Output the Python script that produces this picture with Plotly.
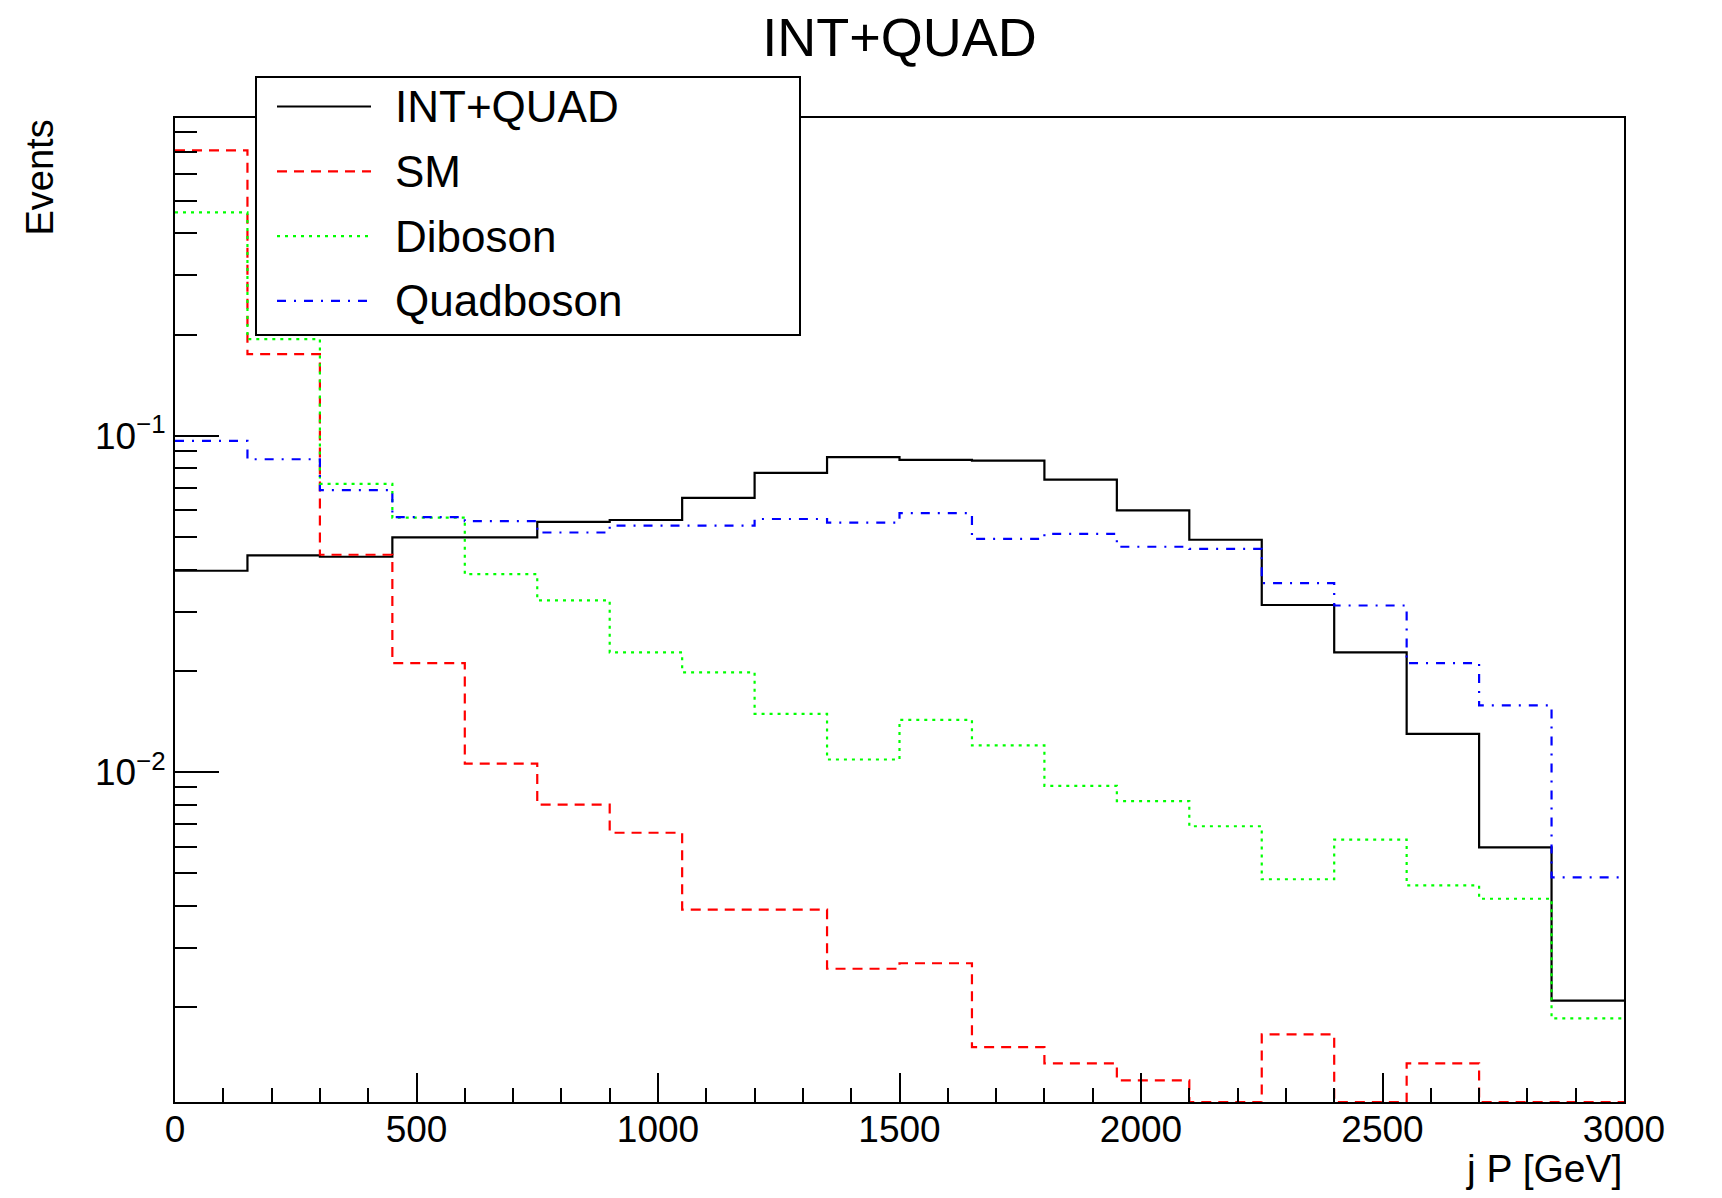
import plotly.graph_objects as go

# ---------------- data ----------------
bin_edges = list(range(0, 3001, 150))  # 20 bins of 150 GeV

int_quad = [0.0397, 0.0441, 0.0437, 0.0499, 0.0499, 0.0555, 0.0562, 0.0654, 0.0776, 0.0864,
            0.0848, 0.0844, 0.0741, 0.0600, 0.0491, 0.0314, 0.0227, 0.0130, 0.00597, 0.00209]
sm = [0.707, 0.175, 0.0443, 0.0211, 0.0106, 0.0080, 0.0066, 0.0039, 0.0039, 0.0026,
      0.0027, 0.00152, 0.00136, 0.00121, 0.0, 0.00166, 0.0, 0.00136, 0.0, 0.0]
diboson = [0.462, 0.194, 0.0720, 0.0571, 0.0388, 0.0324, 0.0227, 0.0198, 0.0149, 0.0109,
           0.0143, 0.0120, 0.0091, 0.0082, 0.0069, 0.0048, 0.0063, 0.0046, 0.0042, 0.00185]
quadboson = [0.0966, 0.0852, 0.0690, 0.0573, 0.0558, 0.0516, 0.0541, 0.0541, 0.0566, 0.0552,
             0.0589, 0.0494, 0.0511, 0.0468, 0.0461, 0.0365, 0.0313, 0.0211, 0.0158, 0.00486]

series_names = ["INT+QUAD", "SM", "Diboson", "Quadboson"]
series_values = [int_quad, sm, diboson, quadboson]

x_tick_vals = [0, 500, 1000, 1500, 2000, 2500, 3000]
y_tick_vals = [0.01, 0.1]
y_tick_text = ["10<sup>\u22122</sup>", "10<sup>\u22121</sup>"]
y_minor_vals = [k * 10.0 ** e for e in (-3, -2, -1) for k in range(2, 10)]

title_text = "INT+QUAD"
x_title = "j P [GeV]"
y_title = "Events"

# ---------------- styles ----------------
colors = ["#000000", "#ff0000", "#00ff00", "#0000ff"]
dashes = ["solid", "10px,7px", "3px,5px", "9px,8px,2px,8px"]
FONT = "Liberation Sans, Arial, sans-serif"

PAGE_W, PAGE_H = 1722, 1198
OFF = 8  # default body margin of the html page
W, H = PAGE_W - 2 * OFF, PAGE_H - 2 * OFF
# plot area in page pixels
PX0, PX1, PY0, PY1 = 175, 1624, 118, 1102
ML, MR, MT, MB = PX0 - OFF, OFF + W - PX1, PY0 - OFF, OFF + H - PY1
PW, PH = PX1 - PX0, PY1 - PY0

log_min, log_max = -2.9813, -0.0545
y_floor = 10 ** log_min  # empty bins are drawn on the axis floor, as ROOT does


def px_x(p):
    return (p - PX0) / PW


def px_y(p):
    return (PY1 - p) / PH


fig = go.Figure()
for name, vals, col, dash in zip(series_names, series_values, colors, dashes):
    yv = [v if v > 0 else y_floor for v in vals]
    fig.add_trace(go.Scatter(
        x=bin_edges, y=yv + [yv[-1]], mode="lines", name=name,
        line=dict(color=col, width=2.2, dash=dash, shape="hv"),
        showlegend=False, hoverinfo="skip", cliponaxis=True,
    ))

fig.update_layout(
    width=W, height=H,
    margin=dict(l=ML, r=MR, t=MT, b=MB),
    paper_bgcolor="white", plot_bgcolor="white",
    font=dict(family=FONT, color="black", size=37),
    showlegend=False,
    title=dict(text=title_text, x=0.5, xref="paper", xanchor="center",
               y=1 - (37 - OFF) / H, yref="container", yanchor="middle",
               font=dict(size=54, family=FONT, color="black")),
)

fig.update_xaxes(
    range=[0, 3000], showgrid=False, zeroline=False,
    showline=True, linecolor="black", linewidth=2, mirror=True,
    ticks="inside", ticklen=29, tickwidth=2, tickcolor="black",
    tickvals=x_tick_vals, ticktext=[str(v) for v in x_tick_vals],
    tickfont=dict(size=37, family=FONT, color="black"),
    ticklabelstandoff=-6,
    minor=dict(ticks="inside", ticklen=14, tickwidth=2, tickcolor="black", dtick=100),
)
fig.update_yaxes(
    type="log", range=[log_min, log_max], showgrid=False, zeroline=False,
    showline=True, linecolor="black", linewidth=2, mirror=True,
    ticks="inside", ticklen=44, tickwidth=2, tickcolor="black",
    tickvals=y_tick_vals, ticktext=y_tick_text,
    tickfont=dict(size=37, family=FONT, color="black"),
    minor=dict(ticks="inside", ticklen=22, tickwidth=2, tickcolor="black",
               tickvals=y_minor_vals),
)

# axis titles
fig.add_annotation(text=y_title, xref="paper", yref="paper",
                   x=px_x(39.5), y=1.0, xanchor="center", yanchor="top",
                   textangle=-90, showarrow=False,
                   font=dict(size=38, family=FONT, color="black"))
fig.add_annotation(text=x_title, xref="paper", yref="paper",
                   x=1.0, y=px_y(1168), xanchor="right", yanchor="middle",
                   showarrow=False, font=dict(size=39, family=FONT, color="black"))

# legend box (ROOT TLegend style)
box = dict(x0=256, x1=800, y0=77, y1=335)
fig.add_shape(type="rect", xref="paper", yref="paper",
              x0=px_x(box["x0"]), x1=px_x(box["x1"]),
              y0=px_y(box["y1"]), y1=px_y(box["y0"]),
              line=dict(color="black", width=2), fillcolor="white", layer="above")
entry_y = [106.5, 171.3, 236.1, 300.9]
for name, col, dash, ey in zip(series_names, colors, dashes, entry_y):
    fig.add_shape(type="line", xref="paper", yref="paper",
                  x0=px_x(277), x1=px_x(371), y0=px_y(ey), y1=px_y(ey),
                  line=dict(color=col, width=2.2, dash=dash), layer="above")
    fig.add_annotation(text=name, xref="paper", yref="paper",
                       x=px_x(393), y=px_y(ey), xanchor="left", yanchor="middle",
                       showarrow=False, font=dict(size=44, family=FONT, color="black"))

fig.write_html("out.html")
